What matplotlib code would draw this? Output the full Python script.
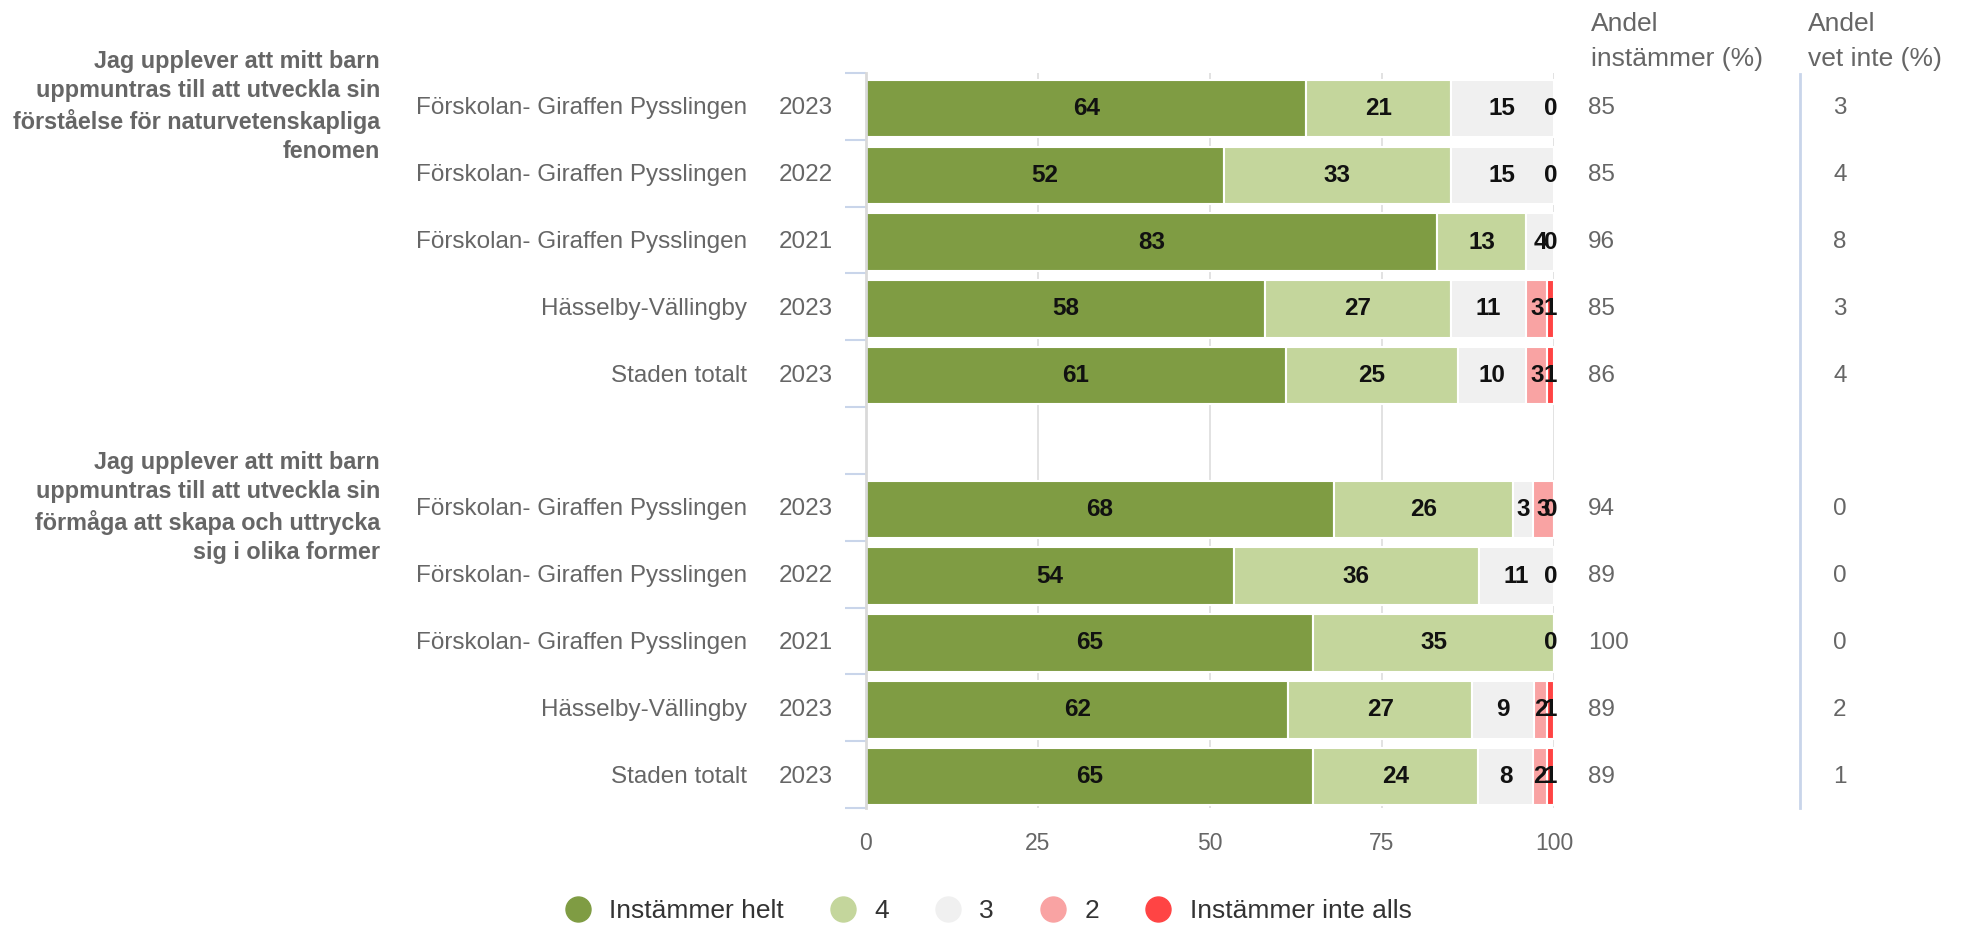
import matplotlib.pyplot as plt
import matplotlib.transforms as mtransforms
from matplotlib.lines import Line2D
import numpy as np

plt.rcParams['font.family'] = ['Liberation Sans', 'DejaVu Sans']

# data
questions = [
    "Jag upplever att mitt barn\nuppmuntras till att utveckla sin\nförståelse för naturvetenskapliga\nfenomen",
    "Jag upplever att mitt barn\nuppmuntras till att utveckla sin\nförmåga att skapa och uttrycka\nsig i olika former",
]
units = ["Förskolan- Giraffen Pysslingen", "Förskolan- Giraffen Pysslingen",
         "Förskolan- Giraffen Pysslingen", "Hässelby-Vällingby", "Staden totalt"]
years = ["2023", "2022", "2021", "2023", "2023"]
categories = ["Instämmer helt", "4", "3", "2", "Instämmer inte alls"]
colors = ["#7f9c43", "#c4d69c", "#f0f0f0", "#f9a3a3", "#ff4444"]

# None = segment not present
q1_values = [
    [64, 21, 15, 0, None],
    [52, 33, 15, 0, None],
    [83, 13, 4, 0, None],
    [58, 27, 11, 3, 1],
    [61, 25, 10, 3, 1],
]
q2_values = [
    [68, 26, 3, 3, 0],
    [54, 36, 11, 0, None],
    [65, 35, 0, None, None],
    [62, 27, 9, 2, 1],
    [65, 24, 8, 2, 1],
]
q1_andel = [85, 85, 96, 85, 86]
q2_andel = [94, 89, 100, 89, 89]
q1_vetinte = [3, 4, 8, 3, 4]
q2_vetinte = [0, 0, 0, 2, 1]

W, H = 1964, 925
fig = plt.figure(figsize=(W / 100, H / 100), dpi=100)
ax = fig.add_axes([866 / W, 1 - 808 / H, (1554 - 866) / W, (808 - 73) / H])

grey = "#666666"
fs = 17.5

groups = [(questions[0], q1_values, q1_andel, q1_vetinte, 0),
          (questions[1], q2_values, q2_andel, q2_vetinte, 6)]

trans = mtransforms.blended_transform_factory(fig.transFigure, ax.transData)

for title, vals, andel, vetinte, start in groups:
    for i, row in enumerate(vals):
        y = start + i
        yb = y + 0.03
        total = sum(v for v in row if v is not None)
        left = 0
        for k, v in enumerate(row):
            if v is None:
                continue
            w = v / total * 100
            ax.barh(yb, w, left=left, height=0.86, color=colors[k],
                    edgecolor="white", linewidth=1.5, zorder=2)
            if v == 0:
                ax.text(left + 0.45, yb, "0", ha="right", va="center",
                        fontsize=17.5, fontweight="bold", color="#111111", zorder=3)
            else:
                ax.text(left + w / 2, yb, str(v), ha="center", va="center",
                        fontsize=17.5, fontweight="bold", color="#111111", zorder=3)
            left += w
        fig.text(747 / W, yb, units[i], transform=trans, ha="right", va="center",
                 fontsize=fs, color=grey)
        fig.text(833 / W, yb, years[i], transform=trans, ha="right", va="center",
                 fontsize=fs, color=grey)
        fig.text(1588 / W, yb, str(andel[i]), transform=trans, ha="left",
                 va="center", fontsize=fs, color=grey)
        fig.text(1833 / W, yb, str(vetinte[i]), transform=trans, ha="left",
                 va="center", fontsize=fs, color=grey)
    fig.text(380 / W, start, title, transform=trans, ha="right", va="center",
             fontsize=16.8, fontweight="bold", color=grey, linespacing=1.35)

ax.set_xlim(0, 100)
ax.set_ylim(10.5, -0.5)
ax.set_xticks([0, 25, 50, 75, 100])
ax.set_xticklabels(["0", "25", "50", "75", "100"])
ax.tick_params(axis="x", length=0, pad=17, labelsize=16.5, labelcolor=grey)
ax.set_yticks(np.arange(-0.5, 11, 1))
ax.set_yticklabels([])
ax.tick_params(axis="y", length=15, width=1.5, color="#c9d5ea")
ax.grid(axis="x", color="#dddddd", linewidth=1.2, zorder=0)
for s in ["top", "right", "bottom"]:
    ax.spines[s].set_visible(False)
ax.spines["left"].set_color("#d9d9d9")
ax.spines["left"].set_linewidth(2)
ax.spines["left"].set_zorder(4)

# headers
hfs = 19
fig.text(1591 / W, 1 - 24 / H, "Andel", ha="left", va="center", fontsize=hfs, color=grey)
fig.text(1591 / W, 1 - 59 / H, "instämmer (%)", ha="left", va="center", fontsize=hfs, color=grey)
fig.text(1808 / W, 1 - 24 / H, "Andel", ha="left", va="center", fontsize=hfs, color=grey)
fig.text(1808 / W, 1 - 59 / H, "vet inte (%)", ha="left", va="center", fontsize=hfs, color=grey)

fig.add_artist(Line2D([1800 / W, 1800 / W], [1 - 808 / H, 1 - 74 / H],
                      transform=fig.transFigure, color="#c9d5ea", linewidth=2))

handles = [Line2D([], [], marker="o", linestyle="", markersize=18,
                  markerfacecolor=c, markeredgecolor=c) for c in colors]
fig.legend(handles, categories, loc="center", bbox_to_anchor=(0.503, 1 - 911 / H),
           ncol=5, frameon=False, fontsize=19, handlelength=1.0,
           handletextpad=0.68, columnspacing=1.75, labelcolor="#333333",
           borderpad=0, borderaxespad=0)

fig.savefig("out.png", dpi=100)
